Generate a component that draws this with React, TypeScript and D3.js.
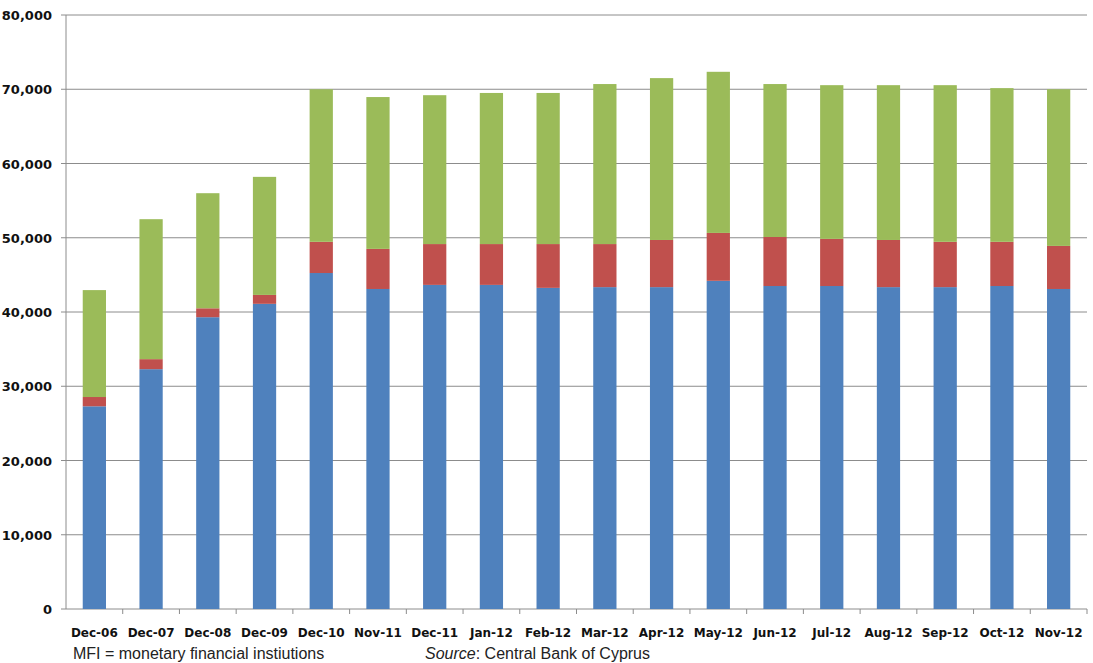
import { scaleBand, scaleLinear, stack } from "d3";

const categories = [
  "Dec-06", "Dec-07", "Dec-08", "Dec-09", "Dec-10", "Nov-11", "Dec-11", "Jan-12", "Feb-12",
  "Mar-12", "Apr-12", "May-12", "Jun-12", "Jul-12", "Aug-12", "Sep-12", "Oct-12", "Nov-12",
];
const blueSeries = [
  27300, 32300, 39300, 41100, 45250, 43100, 43650, 43650, 43250,
  43350, 43350, 44200, 43500, 43500, 43350, 43350, 43500, 43100,
];
const redSeries = [
  1250, 1350, 1200, 1200, 4200, 5400, 5500, 5500, 5900,
  5800, 6350, 6450, 6600, 6350, 6350, 6100, 5950, 5800,
];
const greenSeries = [
  14400, 18850, 15500, 15900, 20550, 20450, 20050, 20350, 20350,
  21550, 21800, 21700, 20600, 20700, 20850, 21100, 20700, 21100,
];
const yTicks = [0, 10000, 20000, 30000, 40000, 50000, 60000, 70000, 80000];
const seriesColors = ["#4F81BD", "#C0504D", "#9BBB59"];

export default function App() {
  const width = 1093;
  const height = 663;
  const left = 66;
  const right = 1087;
  const top = 15;
  const bottom = 609;

  const x = scaleBand().domain(categories).range([left, right]).paddingInner(0.59).paddingOuter(0.295);
  const y = scaleLinear().domain([0, 80000]).range([bottom, top]);
  const step = (right - left) / categories.length;

  const rows = categories.map((c, i) => ({ c, a: blueSeries[i], b: redSeries[i], g: greenSeries[i] }));
  const layers = stack<any>().keys(["a", "b", "g"])(rows);
  const fmt = (v: number) => v.toLocaleString("en-US");

  return (
    <svg
      width={width}
      height={height}
      style={{ position: "absolute", left: 0, top: 0, background: "#fff" }}
      fontFamily="'DejaVu Sans', sans-serif"
    >
      {yTicks.map((t) => (
        <g key={t}>
          <line x1={left - 5} x2={right} y1={y(t)} y2={y(t)} stroke="#8c8c8c" strokeWidth={1} />
          <text x={52} y={y(t) + 5} textAnchor="end" fontSize={13} fontWeight="bold" fill="#111">
            {fmt(t)}
          </text>
        </g>
      ))}
      <line x1={left} x2={left} y1={top} y2={bottom} stroke="#8c8c8c" strokeWidth={1} />
      {layers.map((layer, li) => (
        <g key={li} fill={seriesColors[li]}>
          {layer.map((d, i) => (
            <rect
              key={i}
              x={x(categories[i])}
              width={x.bandwidth()}
              y={y(d[1])}
              height={y(d[0]) - y(d[1])}
            />
          ))}
        </g>
      ))}
      {categories.map((c, i) => (
        <g key={c}>
          <line
            x1={left + step * (i + 1)}
            x2={left + step * (i + 1)}
            y1={bottom}
            y2={bottom + 5}
            stroke="#8c8c8c"
          />
          <text
            x={(x(c) ?? 0) + x.bandwidth() / 2}
            y={637}
            textAnchor="middle"
            fontSize={12}
            fontWeight="bold"
            fill="#111"
          >
            {c}
          </text>
        </g>
      ))}
      <text x={73} y={659} fontSize={16} fill="#222" fontFamily="'Liberation Sans', sans-serif">
        MFI = monetary financial instiutions
      </text>
      <text x={425} y={659} fontSize={16} fill="#222" fontFamily="'Liberation Sans', sans-serif">
        <tspan fontStyle="italic">Source</tspan>: Central Bank of Cyprus
      </text>
    </svg>
  );
}
